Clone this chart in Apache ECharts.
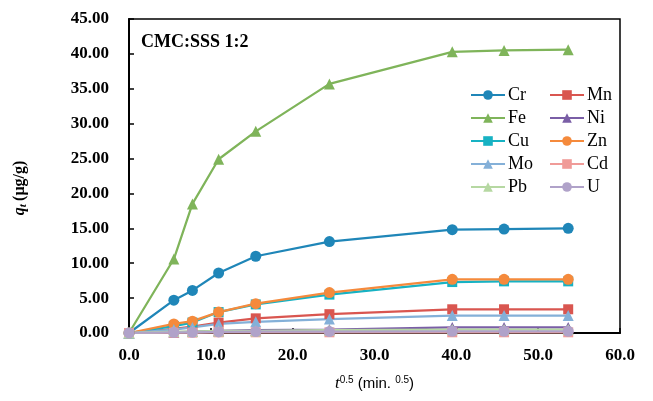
<!DOCTYPE html>
<html>
<head>
<meta charset="utf-8">
<script src="https://cdn.jsdelivr.net/npm/echarts@6/dist/echarts.min.js"></script>
<style>
  html, body { margin: 0; padding: 0; background: #fff; }
  #main { width: 653px; height: 401px; }
</style>
</head>
<body>
<div id="main"></div>
<script type="text/javascript">
    // x values: t^0.5
    var xs = [0, 5.48, 7.75, 10.95, 15.49, 24.49, 39.5, 45.83, 53.67];

    var names = ['Cr', 'Mn', 'Fe', 'Ni', 'Cu', 'Zn', 'Mo', 'Cd', 'Pb', 'U'];
    var cr = [0, 4.7, 6.1, 8.6, 11.0, 13.1, 14.8, 14.9, 15.0];
    var mn = [0, 0.6, 0.9, 1.5, 2.1, 2.7, 3.4, 3.4, 3.4];
    var fe = [0, 10.6, 18.5, 24.9, 28.9, 35.7, 40.3, 40.5, 40.6];
    var ni = [0, 0.1, 0.2, 0.3, 0.4, 0.5, 0.8, 0.8, 0.8];
    var cu = [0, 1.0, 1.5, 3.0, 4.1, 5.5, 7.3, 7.4, 7.4];
    var zn = [0, 1.3, 1.7, 3.0, 4.2, 5.8, 7.7, 7.7, 7.7];
    var mo = [0, 0.5, 0.8, 1.3, 1.6, 2.0, 2.5, 2.5, 2.5];
    var cd = [0, 0.05, 0.05, 0.1, 0.1, 0.1, 0.1, 0.1, 0.1];
    var pb = [0, 0.2, 0.2, 0.3, 0.3, 0.4, 0.5, 0.5, 0.5];
    var u  = [0, 0.1, 0.1, 0.15, 0.2, 0.2, 0.25, 0.25, 0.25];

    var values = [cr, mn, fe, ni, cu, zn, mo, cd, pb, u];
    var colors = ['#1f86b8', '#d95650', '#7fb45a', '#7a5ea6', '#17b2c3',
                  '#f58a3c', '#84b0d8', '#f09b98', '#b6d8a2', '#b0a2c9'];
    var symbols = ['circle', 'rect', 'triangle', 'triangle', 'rect',
                   'circle', 'triangle', 'rect', 'triangle', 'circle'];

    var serif = '"Liberation Serif", "Times New Roman", serif';

    var series = names.map(function (n, i) {
        return {
            name: n,
            type: 'line',
            data: xs.map(function (x, j) { return [x, values[i][j]]; }),
            symbol: symbols[i],
            symbolSize: symbols[i] == 'rect' ? 10 : 11,
            lineStyle: { width: 2.25, color: colors[i] },
            itemStyle: { color: colors[i] },
            showAllSymbol: true
        };
    });

    function legendCol(left, data) {
        return {
            orient: 'vertical',
            left: left,
            top: 86,
            padding: 0,
            data: data,
            itemWidth: 34,
            itemHeight: 12,
            itemGap: 5,
            textStyle: { fontFamily: serif, fontSize: 18, color: '#000', lineHeight: 18, padding: [0, 0, 0, -2] }
        };
    }

    var myChart = echarts.init(document.getElementById('main'));
    var option = {
        animation: false,
        backgroundColor: '#fff',
        title: {
            text: 'CMC:SSS 1:2',
            left: 136,
            top: 28,
            textStyle: { fontFamily: serif, fontSize: 18, fontWeight: 'bold', color: '#000' }
        },
        legend: [
            legendCol(470, ['Cr', 'Fe', 'Cu', 'Mo', 'Pb']),
            legendCol(549, ['Mn', 'Ni', 'Zn', 'Cd', 'U'])
        ],
        grid: {
            left: 129, right: 33, top: 19, bottom: 68,
            show: true, borderColor: '#000', borderWidth: 1.5
        },
        xAxis: {
            type: 'value',
            min: 0, max: 60, interval: 10,
            axisLine: { show: true, lineStyle: { color: '#000', width: 2 } },
            axisTick: { show: true, inside: true, length: 5, lineStyle: { color: '#000', width: 1.5 } },
            splitLine: { show: false },
            axisLabel: {
                margin: 14,
                fontFamily: serif, fontSize: 17, fontWeight: 'bold', color: '#000',
                formatter: function (v) { return v.toFixed(1); }
            },
            name: '{i|t}{s|0.5} (min. {s|0.5})',
            nameLocation: 'middle',
            nameGap: 42,
            nameTextStyle: {
                fontFamily: '"Liberation Sans", Arial, sans-serif', fontSize: 15, color: '#000',
                rich: {
                    i: { fontFamily: serif, fontStyle: 'italic', fontSize: 17, color: '#000' },
                    s: { fontFamily: '"Liberation Sans", Arial, sans-serif', fontSize: 10, verticalAlign: 'top', padding: [0, 0, 8, 0], color: '#000' }
                }
            }
        },
        yAxis: {
            type: 'value',
            min: 0, max: 45, interval: 5,
            axisLine: { show: true, lineStyle: { color: '#000', width: 2 } },
            axisTick: { show: true, inside: true, length: 5, lineStyle: { color: '#000', width: 1.5 } },
            splitLine: { show: false },
            axisLabel: {
                margin: 20,
                fontFamily: serif, fontSize: 17, fontWeight: 'bold', color: '#000',
                formatter: function (v) { return v.toFixed(2); }
            }
        },
        graphic: [{
            type: 'text',
            x: 20,
            y: 188,
            rotation: Math.PI / 2,
            style: {
                text: '{q|q}{t|t} {b|(μg/g)}',
                align: 'center',
                verticalAlign: 'middle',
                rich: {
                    q: { fontFamily: serif, fontSize: 16, fontWeight: 'bold', fontStyle: 'italic', fill: '#000' },
                    t: { fontFamily: serif, fontSize: 11, fontWeight: 'bold', fontStyle: 'italic', fill: '#000', padding: [6, 0, 0, 0] },
                    b: { fontFamily: serif, fontSize: 16, fontWeight: 'bold', fill: '#000' }
                }
            }
        }],
        series: series
    };
    myChart.setOption(option);
</script>
</body>
</html>
